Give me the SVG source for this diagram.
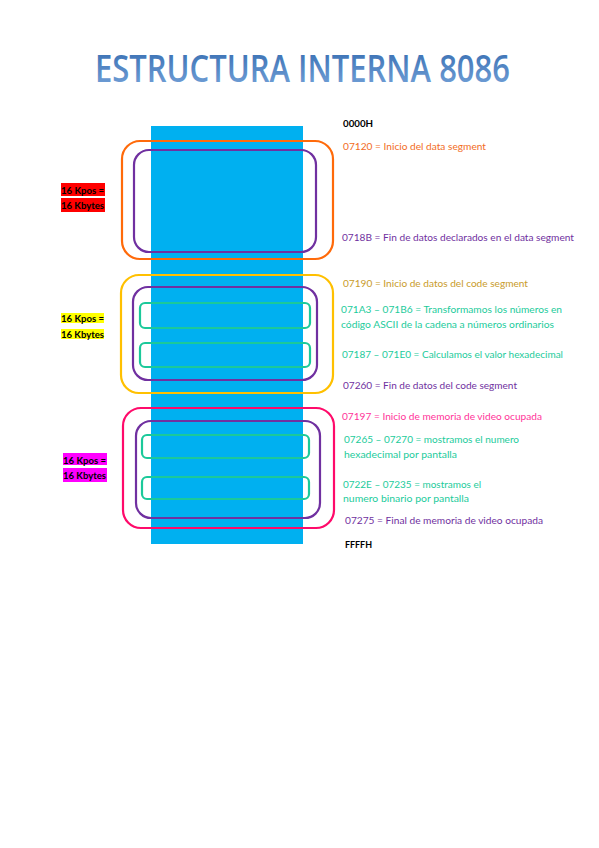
<svg xmlns="http://www.w3.org/2000/svg" width="599" height="848" viewBox="0 0 599 848">
<defs>
<linearGradient id="tg" x1="0" y1="0" x2="0" y2="1">
<stop offset="0" stop-color="#2E66AC"/>
<stop offset="1" stop-color="#7BA8DD"/>
</linearGradient>
<style>
.t{font-family:Lato,"Open Sans","Liberation Sans",sans-serif;font-size:9.5px}
.b{font-weight:bold;fill:#000}
.box{fill:none;stroke-width:2.2}
.or{fill:#F26C1E}.pu{fill:#7030A0}.go{fill:#C99B2A}.gr{fill:#1BCB9B}.pk{fill:#FF3399}
.lab{font-family:Lato,"Open Sans","Liberation Sans",sans-serif;font-size:9.5px;font-weight:bold;fill:#000}
</style>
</defs>
<rect width="599" height="848" fill="#fff"/>
<g id="title">
<text x="95" y="82" font-family="'Open Sans','Liberation Sans',sans-serif" font-size="37" font-weight="600" fill="url(#tg)" textLength="415" lengthAdjust="spacingAndGlyphs">ESTRUCTURA INTERNA 8086</text>
</g>
<g id="memory">
<rect x="151" y="126" width="152" height="418" fill="#00B0F0"/>
</g>
<g id="data-segment">
<rect class="box" x="122" y="141" width="211" height="118" rx="18" stroke="#FF6A0A"/>
<rect class="box" x="134" y="150" width="182" height="102" rx="15" stroke="#7030A0"/>
</g>
<g id="code-segment">
<rect class="box" x="121" y="275" width="212" height="118" rx="18" stroke="#FFC000"/>
<rect class="box" x="133" y="287" width="184" height="93" rx="15" stroke="#7030A0"/>
<rect class="box" x="140" y="303" width="170" height="25" rx="5" stroke="#1BC99A"/>
<rect class="box" x="140" y="343" width="170" height="24" rx="5" stroke="#1BC99A"/>
</g>
<g id="video-segment">
<rect class="box" x="123" y="408" width="211" height="120" rx="18" stroke="#FF0A6A"/>
<rect class="box" x="136" y="421" width="184" height="97" rx="15" stroke="#7030A0"/>
<rect class="box" x="142" y="435" width="167" height="23" rx="5" stroke="#1BC99A"/>
<rect class="box" x="142" y="477" width="167" height="22" rx="5" stroke="#1BC99A"/>
</g>
<g id="size-labels">
<rect x="61" y="183" width="44" height="13" fill="#FF0000"/>
<rect x="61" y="198" width="44" height="14" fill="#FF0000"/>
<text class="lab" x="61" y="194" textLength="43" lengthAdjust="spacingAndGlyphs">16 Kpos =</text>
<text class="lab" x="61" y="208.5" textLength="43" lengthAdjust="spacingAndGlyphs">16 Kbytes</text>
<rect x="61" y="313" width="43" height="10" fill="#FFFF00"/>
<rect x="61" y="329" width="43" height="10" fill="#FFFF00"/>
<text class="lab" x="61" y="321.5" textLength="43" lengthAdjust="spacingAndGlyphs">16 Kpos =</text>
<text class="lab" x="61" y="337.5" textLength="43" lengthAdjust="spacingAndGlyphs">16 Kbytes</text>
<rect x="63" y="453" width="44" height="12" fill="#FF00FF"/>
<rect x="63" y="468" width="44" height="14" fill="#FF00FF"/>
<text class="lab" x="63" y="463.5" textLength="43" lengthAdjust="spacingAndGlyphs">16 Kpos =</text>
<text class="lab" x="63" y="479" textLength="43" lengthAdjust="spacingAndGlyphs">16 Kbytes</text>
</g>
<g id="annotations">
<text class="t b" x="343" y="127" textLength="30" lengthAdjust="spacingAndGlyphs">0000H</text>
<text class="t or" x="343" y="149.5" textLength="143" lengthAdjust="spacingAndGlyphs">07120 = Inicio del data segment</text>
<text class="t pu" x="342" y="240.5" textLength="232" lengthAdjust="spacingAndGlyphs">0718B = Fin de datos declarados en el data segment</text>
<text class="t go" x="343" y="286.5" textLength="185" lengthAdjust="spacingAndGlyphs">07190 = Inicio de datos del code segment</text>
<text class="t gr" x="341" y="313" textLength="221" lengthAdjust="spacingAndGlyphs">071A3 – 071B6 = Transformamos los números en</text>
<text class="t gr" x="341" y="328" textLength="213" lengthAdjust="spacingAndGlyphs">código ASCII de la cadena a números ordinarios</text>
<text class="t gr" x="342" y="357.5" textLength="221" lengthAdjust="spacingAndGlyphs">07187 – 071E0 = Calculamos el valor hexadecimal</text>
<text class="t pu" x="343" y="388.5" textLength="174" lengthAdjust="spacingAndGlyphs">07260 = Fin de datos del code segment</text>
<text class="t pk" x="342" y="420" textLength="200" lengthAdjust="spacingAndGlyphs">07197 = Inicio de memoria de video ocupada</text>
<text class="t gr" x="344" y="443" textLength="175" lengthAdjust="spacingAndGlyphs">07265 – 07270 = mostramos el numero</text>
<text class="t gr" x="344" y="457.5" textLength="113" lengthAdjust="spacingAndGlyphs">hexadecimal por pantalla</text>
<text class="t gr" x="343" y="487.5" textLength="138" lengthAdjust="spacingAndGlyphs">0722E – 07235 = mostramos el</text>
<text class="t gr" x="343" y="502" textLength="126" lengthAdjust="spacingAndGlyphs">numero binario por pantalla</text>
<text class="t pu" x="345" y="524" textLength="198" lengthAdjust="spacingAndGlyphs">07275 = Final de memoria de video ocupada</text>
<text class="t b" x="345" y="547.5" textLength="27" lengthAdjust="spacingAndGlyphs">FFFFH</text>
</g>
</svg>
